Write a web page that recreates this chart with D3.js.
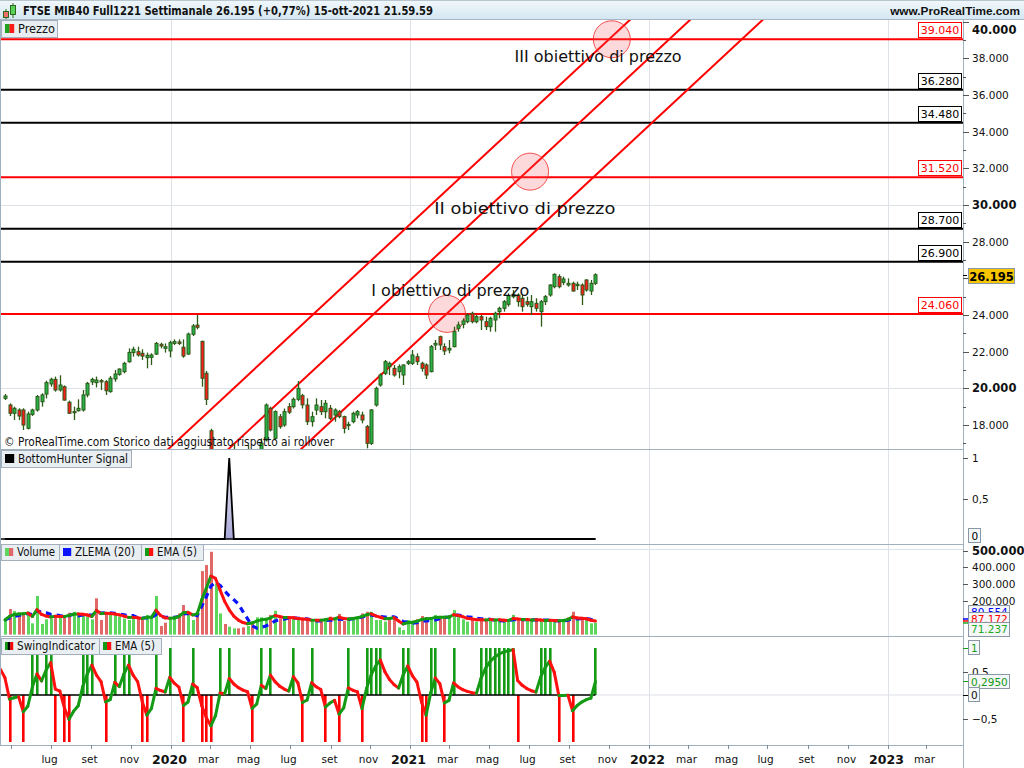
<!DOCTYPE html>
<html><head><meta charset="utf-8">
<script src="https://cdn.jsdelivr.net/npm/d3@7"></script>
<style>body{margin:0;background:#fff;overflow:hidden}svg{display:block;font-family:"DejaVu Sans",sans-serif}</style>
</head><body><svg id="c" width="1024" height="768"></svg>
<script>
// ---------------- DATA ----------------
const firstWeek = "2019-04-22";
const open = [19455,19090,18640,18820,18820,17820,18580,18820,19270,19690,20240,20490,19910,20090,19240,18730,18780,18820,19640,20350,20310,20420,20360,19820,20510,20760,20910,21450,21950,22000,21910,21670,21690,21870,22400,22180,22040,22450,22530,22240,21870,22950,23450,22560,20820,
17690,14800,14900,15400,15200,15600,16300,16100,15800,16500,16000,16500,17180,18910,17270,18450,18000,19000,19000,19400,19600,
19091,18182,18818,19000,18727,18909,18545,18727,18455,17964,18182,18545,18545,17909,17000,19091,20182,20818,21182,21091,20909,20727,21364,21364,21727,21364,21273,20909,22364,22818,22273,22091,22273,23273,23491,23636,24091,23636,23909,23636,23364,23727,24182,24364,24582,25000,25091,24909,24727,24455,24636,24182,24727,25091,25545,26091,25782,25636,25727,25600,25636,25909,25309,25727];
const high = [19690,19180,19000,18910,18910,18730,18890,19640,19730,20420,20580,20640,20710,20160,19330,19000,19400,19910,20350,20580,20640,20510,20450,20670,21000,21090,21450,22180,22270,22270,22130,21950,21910,22530,22490,22450,22600,22670,22670,22670,23040,23510,24020,22600,20950,
17800,15600,15600,16200,15900,17000,16600,16500,16900,16600,16700,17270,19180,19000,18800,18600,18900,19200,19500,20400,19700,
19455,18727,19455,19364,19364,19091,18909,18818,18509,18182,18727,18818,18727,18000,18873,20091,20818,21545,21455,21273,21309,21309,21545,22091,21909,21455,21364,22364,22636,22873,22455,22636,23364,23636,23818,24091,24182,24000,24000,23909,23909,24182,24455,24818,25182,25364,25182,25091,25000,25091,24909,24818,25091,25673,26272,26218,26091,26000,25818,25818,25727,25963,25909,26272];
const low = [19360,18490,18270,18270,17730,17760,18490,18730,19000,19450,20090,19820,19820,19330,18600,18270,18730,18730,19510,20180,20050,19910,19640,19760,20360,20690,20820,21400,21730,21730,21550,21090,21270,21820,22180,21950,21690,22360,22360,21670,21820,22850,23220,20090,19090,
14300,13700,14300,15000,14800,15400,15800,15600,15700,15800,15900,16400,17100,17650,17200,17800,17900,18600,18900,19300,18900,
18000,17909,18545,18545,18364,18273,18182,18364,17545,17727,18091,18364,18091,16727,16909,19000,20091,20727,20727,20636,20545,20182,21273,21273,21273,20909,20509,20873,22091,22091,21818,21909,22236,23091,23273,23545,23545,23545,23182,23182,23091,23091,23818,24182,24455,24909,24455,24182,24455,24000,24182,23364,24545,25000,25455,25455,25636,25545,25273,25364,24545,25273,25091,25636];
const close = [19580,18640,18910,18490,18000,18600,18820,19550,19640,20310,20490,19910,20180,19360,18640,18670,18910,19640,20270,20490,20450,20350,19870,20550,20780,21050,21360,21960,22130,21820,21760,21800,21820,22450,22310,22270,22490,22550,22450,21760,22960,23400,23330,20550,19400,
14800,14900,15400,15200,15600,16300,16100,15800,16500,16000,16500,17000,19090,17730,18730,17910,18730,18700,19400,20000,19100,
18182,18455,19091,18727,19182,18364,18818,18455,17818,18036,18636,18727,18273,17000,18818,20000,20727,21455,21364,20727,21182,21273,21455,21818,21455,21091,20727,22273,22455,22364,22036,22182,23091,23455,23673,24000,23636,23909,23727,23364,23818,24091,24364,24727,25054,25127,24727,24455,24582,24727,24364,24727,25000,25636,26218,25545,25963,25727,25309,25673,25091,25364,25727,26195];
const volume = [87,152,140,130,126,136,67,230,63,91,95,117,103,107,130,136,126,117,107,91,216,87,130,123,117,107,95,87,103,95,87,117,103,230,51,71,91,103,126,176,136,87,136,378,414,493,305,126,63,47,37,37,43,51,77,103,103,97,117,142,97,87,103,97,87,87,87,75,87,83,95,107,91,123,81,87,103,107,126,136,136,87,87,77,97,111,43,27,87,77,91,111,103,97,117,103,103,107,146,107,91,77,87,77,87,87,95,83,91,77,83,117,87,83,91,83,91,83,77,87,83,77,87,103,136,87,95,87,67,71.237].map(v => v * 1000);
const swing = [0,-1,0,0,-1,0,1,1,0,1, 1,-1,0,-1,-1,0,0,1,1,1, 0,0,-1,0,1,0,1,1,0,0, -1,-1,0,1,0,0,1,0,0,-1, 0,1,0,-1,-1,-1,0,1,0,1, 0,0,0,0,-1,0,1,0,1,0, 0,0,0,1,0,-1,0,1,0,0, -1,0,0,-1,0,1,0,0,-1,1, 1,1,1,0,0,0,0,1,1,0, 0,-1,-1,1,1,0,-1,0,1,0, 0,0,0,0,1,1,1,1,1,1, 1,1,-1,0,0,0,0,1,1,1, 0,-1,0,0,-1,0,0,0,0,1];
const swingEmaStart = 0.55;
const bottomHunterSignals = ["2020-03-30"];
const levelValues = [39040, 36280, 34480, 31520, 28700, 26900, 24060];
const levelIsTarget = [true, false, false, true, false, false, true];
const trendLines = [
  [["2019-12-28", 16691], ["2021-11-16", 39545]],
  [["2020-03-29", 16691], ["2022-02-16", 39545]],
  [["2020-07-18", 16691], ["2022-06-07", 39545]]
];
const targetCircles = [["2021-02-26", 24060], ["2021-07-03", 31820], ["2021-11-05", 39040]];
const targetTexts = ["I obiettivo di prezzo", "II obiettivo di prezzo", "III obiettivo di prezzo"];
const targetTextAnchors = [["2021-03-03", 25036], ["2021-06-25", 29510], ["2021-10-15", 37800]];
const priceTicks = [18000, 20000, 22000, 24000, 28000, 30000, 32000, 34000, 36000, 38000];
const monthNames = ["gen","feb","mar","apr","mag","giu","lug","ago","set","ott","nov","dic"];
const lastPrice = 26195;
const volLastLabels = [["80.554", "#0000ff"], ["87.172", "#ff0000"], ["71.237", "#22aa22"]];

// ---------------- SETUP ----------------
const svg = d3.select("#c");
const defs = svg.append("defs");
const L = 1, R = 963;
const parse = d3.utcParse("%Y-%m-%d");
const weeks = close.map((_, i) => d3.utcMonday.offset(parse(firstWeek), i));
const x = d3.scaleUtc().domain([Date.UTC(2019,3,16), Date.UTC(2023,3,26)]).range([L, R]);
const yP = d3.scaleLinear().domain([24000, 36000]).range([315, 95]);
const yB = d3.scaleLinear().domain([0, 1]).range([539, 458]);
const yV = d3.scaleLinear().domain([0, 500000]).range([634.6, 550.6]);
const yS = d3.scaleLinear().domain([0, 1]).range([695, 648]);
const panels = {price:[20,449], bh:[450,544], vol:[544,637], sw:[637,745]};
Object.entries(panels).forEach(([k,[a,b]]) => {
  defs.append("clipPath").attr("id","cl-"+k).append("rect").attr("x",L).attr("y",a).attr("width",R-L).attr("height",b-a);
});
const tg = defs.append("linearGradient").attr("id","tgrad").attr("x1",0).attr("y1",0).attr("x2",0).attr("y2",1);
tg.append("stop").attr("offset","0%").attr("stop-color","#f1f8fc");
tg.append("stop").attr("offset","100%").attr("stop-color","#d3e6f1");
const bg = defs.append("linearGradient").attr("id","bhgrad").attr("x1",0).attr("y1",0).attr("x2",0).attr("y2",1);
bg.append("stop").attr("offset","0%").attr("stop-color","#f2f2f8");
bg.append("stop").attr("offset","100%").attr("stop-color","#a8a8d8");

svg.append("rect").attr("width",1024).attr("height",768).attr("fill","#fff");

// grid
const gridC = "#dde2e8";
const years = d3.utcYear.range(Date.UTC(2020,0,1), Date.UTC(2023,1,1));
svg.append("g").selectAll("line").data(years).join("line")
  .attr("x1", d => Math.round(x(d))+0.5).attr("x2", d => Math.round(x(d))+0.5)
  .attr("y1", 20).attr("y2", 745).attr("stroke", gridC);
[20000, 30000].forEach(v => svg.append("line").attr("x1",L).attr("x2",R).attr("y1",Math.round(yP(v))+0.5).attr("y2",Math.round(yP(v))+0.5).attr("stroke",gridC));
svg.append("line").attr("x1",L).attr("x2",R).attr("y1",Math.round(yV(500000))-1.5).attr("y2",Math.round(yV(500000))-1.5).attr("stroke",gridC);
svg.append("line").attr("x1",L).attr("x2",R).attr("y1",yS(0)).attr("y2",yS(0)).attr("stroke",gridC);

// ---------------- PRICE PANEL ----------------
const gp = svg.append("g").attr("clip-path","url(#cl-price)");
levelValues.forEach((v,i) => {
  gp.append("line").attr("x1",L).attr("x2",R).attr("y1",yP(v)).attr("y2",yP(v))
    .attr("stroke", levelIsTarget[i] ? "#ff0000" : "#000").attr("stroke-width",2);
});
trendLines.forEach(([a,b]) => {
  const ta = parse(a[0]), tb = parse(b[0]);
  const slope = (b[1]-a[1])/(tb-ta);
  const t0 = x.domain()[0], t1 = x.domain()[1];
  const p0 = a[1] + slope*(t0-ta), p1 = a[1] + slope*(t1-ta);
  gp.append("line").attr("x1",x(t0)).attr("y1",yP(p0)).attr("x2",x(t1)).attr("y2",yP(p1))
    .attr("stroke","#ff0000").attr("stroke-width",2);
});
gp.selectAll("circle.t").data(targetCircles).join("circle")
  .attr("cx", d => x(parse(d[0]))).attr("cy", d => yP(d[1])).attr("r", 18.5)
  .attr("fill","rgba(250,80,90,0.22)").attr("stroke","rgba(240,40,40,0.8)").attr("stroke-width",1);
const candleG = gp.append("g");
weeks.forEach((d,i) => {
  const cx = Math.round(x(d)) + 0.5;
  const up = close[i] >= open[i];
  candleG.append("line").attr("x1",cx).attr("x2",cx).attr("y1",yP(high[i])).attr("y2",yP(low[i]))
    .attr("stroke","#2c5a17").attr("stroke-width",1.3);
  const yt = yP(Math.max(open[i],close[i])), yb = yP(Math.min(open[i],close[i]));
  candleG.append("rect").attr("x",cx-1.5).attr("y",yt).attr("width",3).attr("height",Math.max(1,yb-yt))
    .attr("fill", up ? "#27b34a" : "#ff1c1c").attr("stroke","#2c5a17").attr("stroke-width",1);
});
targetTexts.forEach((t,i) => {
  gp.append("text").attr("x", x(parse(targetTextAnchors[i][0]))).attr("y", yP(targetTextAnchors[i][1]))
    .attr("text-anchor","middle").attr("font-size",16).attr("fill","#111")
    .attr("textLength", [158,181,167][i]).attr("lengthAdjust","spacingAndGlyphs").text(t);
});
levelValues.forEach((v,i) => {
  const c = levelIsTarget[i] ? "#ff0000" : "#000";
  const yy = Math.round(yP(v));
  svg.append("rect").attr("x",918.5).attr("y",yy-16.5).attr("width",43).attr("height",15).attr("fill","#fff").attr("stroke",c).attr("stroke-width",1);
  svg.append("text").attr("x",940).attr("y",yy-5).attr("text-anchor","middle").attr("font-size",11).attr("fill",c).text(d3.format(",")(v).replace(/,/g,"."));
});
svg.append("text").attr("x",4).attr("y",446).attr("font-size",12.5).attr("fill","#111")
  .attr("textLength",330).attr("lengthAdjust","spacingAndGlyphs")
  .text("\u00A9 ProRealTime.com  Storico dati aggiustato rispetto ai rollover");

// ---------------- BOTTOM HUNTER ----------------
const gb = svg.append("g").attr("clip-path","url(#cl-bh)");
const bhSet = new Set(bottomHunterSignals);
const bhVals = weeks.map(d => bhSet.has(d3.utcFormat("%Y-%m-%d")(d)) ? 1 : 0);
const bhLine = d3.line().x((d,i) => x(weeks[i])).y(d => yB(d));
const bhArea = d3.area().x((d,i) => x(weeks[i])).y0(yB(0)).y1(d => yB(d));
gb.append("path").datum(bhVals).attr("d", bhArea).attr("fill","url(#bhgrad)");
gb.append("path").datum(bhVals).attr("d", bhLine).attr("fill","none").attr("stroke","#000").attr("stroke-width",1.8);

// ---------------- VOLUME ----------------
const gv = svg.append("g").attr("clip-path","url(#cl-vol)");
weeks.forEach((d,i) => {
  const up = i === 0 ? true : close[i] >= close[i-1];
  const cx = Math.round(x(d));
  gv.append("rect").attr("x",cx-1).attr("y",yV(volume[i])).attr("width",3).attr("height",yV(0)-yV(volume[i]))
    .attr("fill", up ? "#5cd65c" : "#e26868");
});
const ema5 = []; volume.forEach((v,i) => ema5.push(i===0 ? v : ema5[i-1] + (v-ema5[i-1])*(2/6)));
const zl = []; const lag = 9;
volume.forEach((v,i) => { const src = 2*v - volume[Math.max(0,i-lag)]; zl.push(i===0 ? v : zl[i-1] + (src - zl[i-1])*(2/21)); });
gv.append("path").datum(zl).attr("d", d3.line().x((d,i)=>x(weeks[i])).y(d=>yV(d)))
  .attr("fill","none").attr("stroke","#0a14ff").attr("stroke-width",3.2).attr("stroke-dasharray","6,5");
for (let i=1;i<ema5.length;i++){
  gv.append("line").attr("x1",x(weeks[i-1])).attr("x2",x(weeks[i])).attr("y1",yV(ema5[i-1])).attr("y2",yV(ema5[i]))
    .attr("stroke", ema5[i] >= ema5[i-1] ? "#139a13" : "#ff1010").attr("stroke-width",3).attr("stroke-linecap","round");
}

// ---------------- SWING ----------------
const gs = svg.append("g").attr("clip-path","url(#cl-sw)");
weeks.forEach((d,i) => {
  if (!swing[i]) return;
  const cx = Math.round(x(d));
  gs.append("rect").attr("x",cx-1).attr("width",2.6)
    .attr("y", Math.min(yS(0), yS(swing[i]))).attr("height", Math.abs(yS(swing[i])-yS(0)))
    .attr("fill", swing[i] > 0 ? "#149a14" : "#ff0000");
});
gs.append("line").attr("x1",L).attr("x2",x(weeks[weeks.length-1])).attr("y1",yS(0)).attr("y2",yS(0)).attr("stroke","#000").attr("stroke-width",1.3);
const sEma = []; swing.forEach((v,i) => { const prev = i===0 ? swingEmaStart : sEma[i-1]; sEma.push(prev + (v - prev)/3); });
const sPts = [[d3.utcMonday.offset(weeks[0],-1), swingEmaStart]].concat(weeks.map((d,i)=>[d,sEma[i]]));
for (let i=1;i<sPts.length;i++){
  gs.append("line").attr("x1",x(sPts[i-1][0])).attr("x2",x(sPts[i][0])).attr("y1",yS(sPts[i-1][1])).attr("y2",yS(sPts[i][1]))
    .attr("stroke", sPts[i][1] >= sPts[i-1][1] ? "#149a14" : "#ff1010").attr("stroke-width",3).attr("stroke-linecap","round");
}
gb.append("line").attr("x1",L).attr("x2",x(weeks[weeks.length-1])).attr("y1",yB(0)).attr("y2",yB(0)).attr("stroke","#000").attr("stroke-width",1.5);

// ---------------- FRAMES ----------------
const frameC = "#9fb0be";
[449.5, 544.5, 636.5, 745.5].forEach(y => svg.append("line").attr("x1",0).attr("x2",R).attr("y1",y).attr("y2",y).attr("stroke",frameC));
svg.append("line").attr("x1",R+0.5).attr("x2",R+0.5).attr("y1",20).attr("y2",768).attr("stroke",frameC);
svg.append("line").attr("x1",0.5).attr("x2",0.5).attr("y1",20).attr("y2",745).attr("stroke",frameC);

// ---------------- TITLE ----------------
svg.append("rect").attr("x",0).attr("y",0).attr("width",1024).attr("height",20).attr("fill","url(#tgrad)");
svg.append("line").attr("x1",0).attr("x2",1024).attr("y1",19.5).attr("y2",19.5).attr("stroke","#a7b6c2");
svg.append("line").attr("x1",0).attr("x2",1024).attr("y1",0.5).attr("y2",0.5).attr("stroke","#b8c6d0");
svg.append("line").attr("x1",6).attr("x2",6).attr("y1",9).attr("y2",19).attr("stroke","#2c6a1a");
svg.append("rect").attr("x",3.5).attr("y",11.5).attr("width",5).attr("height",6).attr("fill","#f07070").attr("stroke","#2c6a1a");
svg.append("line").attr("x1",13).attr("x2",13).attr("y1",3).attr("y2",18).attr("stroke","#2c6a1a");
svg.append("rect").attr("x",10.5).attr("y",5.5).attr("width",5).attr("height",9).attr("fill","#5ad05a").attr("stroke","#2c6a1a");
svg.append("text").attr("x",23).attr("y",15).attr("font-size",12).attr("font-weight","bold").attr("fill","#111")
  .attr("textLength",410).attr("lengthAdjust","spacingAndGlyphs")
  .text("FTSE MIB40 Full1221 Settimanale 26.195 (+0,77%) 15-ott-2021 21.59.59");
svg.append("text").attr("x",1020).attr("y",15).attr("text-anchor","end").attr("font-family","'Liberation Sans',Arial,sans-serif")
  .attr("font-size",11.8).attr("font-weight","bold").attr("fill","#111").text("www.ProRealTime.com");

// ---------------- LEGENDS ----------------
function legendBox(x0, y0, w, h, label, icon, tl) {
  svg.append("rect").attr("x",x0+0.5).attr("y",y0+0.5).attr("width",w).attr("height",h).attr("fill","#e8eef2").attr("stroke","#a3b0bb");
  const ix = x0+4, iy = y0+4, is = h-8;
  icon.forEach((c,k) => svg.append("rect").attr("x",ix + k*is/icon.length).attr("y",iy).attr("width",is/icon.length+0.2).attr("height",is).attr("fill",c));
  svg.append("text").attr("x",ix+is+4).attr("y",y0+h-4).attr("font-size",11.5).attr("fill","#111")
    .attr("textLength",tl).attr("lengthAdjust","spacingAndGlyphs").text(label);
}
legendBox(1,20,56,17,"Prezzo",["#1fa01f","#ff1a1a"],37);
legendBox(1,450,130,17,"BottomHunter Signal",["#000"],110);
legendBox(1,544,58,16,"Volume",["#5cd65c","#e26868"],38);
legendBox(59,544,82,16,"ZLEMA (20)",["#0a14ff"],60);
legendBox(141,544,62,16,"EMA (5)",["#139a13","#ff1010"],40);
legendBox(1,638,98,16,"SwingIndicator",["#139a13","#000","#ff0000"],78);
legendBox(99,638,62,16,"EMA (5)",["#139a13","#ff1010"],40);

// ---------------- RIGHT AXES ----------------
const fmtK = v => d3.format(",")(v).replace(/,/g,".");
const ax = svg.append("g");
function tick(y, len, col){ ax.append("line").attr("x1",R).attr("x2",R+len).attr("y1",Math.round(y)+0.5).attr("y2",Math.round(y)+0.5).attr("stroke",col||"#555"); }
function lab(y, t, bold, col){ ax.append("text").attr("x",972).attr("y",y+4).attr("font-size",bold?11.5:10.5).attr("font-weight",bold?"bold":"normal").attr("fill",col||"#111").text(t); }
d3.range(17000, 40001, 1000).forEach(v => tick(yP(v), v%2000===0 ? 6 : 3));
priceTicks.forEach(v => lab(yP(v), fmtK(v), v%10000===0));
lab(30, "40.000", true);
ax.append("rect").attr("x",968.5).attr("y",268.5).attr("width",46).attr("height",15).attr("fill","#f7c600").attr("stroke","#8a98a6");
ax.append("text").attr("x",991.5).attr("y",280.5).attr("text-anchor","middle").attr("font-size",11.5).attr("font-weight","bold").text(fmtK(lastPrice));
tick(yP(lastPrice), 4, "#000");
tick(yB(1),5); lab(yB(1),"1"); tick(yB(0.5),5); lab(yB(0.5),"0,5");
ax.append("rect").attr("x",968.5).attr("y",528.5).attr("width",12).attr("height",14).attr("fill","#f4f6f8").attr("stroke","#8a98a6");
ax.append("text").attr("x",971.5).attr("y",539.5).attr("font-size",10.5).text("0");
[200000,300000,400000].forEach(v => { tick(yV(v),5); lab(yV(v), fmtK(v)); });
tick(yV(500000),5); lab(yV(500000),"500.000",true);
[[605,612],[612,619],[622,629]].forEach(([by,ty],k) => {
  ax.append("rect").attr("x",968.5).attr("y",by+0.5).attr("width",41).attr("height",14).attr("fill","#f4f6f8").attr("stroke","#8a98a6");
  ax.append("text").attr("x",971).attr("y",ty+4).attr("font-size",10.5).attr("fill",volLastLabels[k][1]).text(volLastLabels[k][0]);
});
[["#0000ff",619],["#ff0000",621],["#22aa22",623]].forEach(([c,y]) => ax.append("line").attr("x1",R).attr("x2",R+5).attr("y1",y).attr("y2",y).attr("stroke",c).attr("stroke-width",1.5));
tick(yS(0.5),5); lab(yS(0.5),"0,5"); tick(yS(-0.5),5); lab(yS(-0.5),"\u22120,5");
tick(yS(1),5,"#149a14"); tick(yS(0.295),5,"#149a14"); tick(yS(0),5,"#000");
ax.append("rect").attr("x",968.5).attr("y",640.5).attr("width",11).attr("height",14).attr("fill","#f4f6f8").attr("stroke","#8a98a6");
ax.append("text").attr("x",971).attr("y",652).attr("font-size",10.5).attr("fill","#149a14").text("1");
ax.append("rect").attr("x",968.5).attr("y",674.5).attr("width",41).attr("height",14).attr("fill","#f4f6f8").attr("stroke","#8a98a6");
ax.append("text").attr("x",971).attr("y",686).attr("font-size",10.5).attr("fill","#149a14").text("0,2950");
ax.append("rect").attr("x",968.5).attr("y",687.5).attr("width",11).attr("height",14).attr("fill","#f4f6f8").attr("stroke","#8a98a6");
ax.append("text").attr("x",971).attr("y",699).attr("font-size",10.5).attr("fill","#111").text("0");

// ---------------- X AXIS ----------------
const xt = d3.utcMonth.every(2).range(Date.UTC(2019,4,1), Date.UTC(2023,4,1));
const xa = svg.append("g");
xt.forEach((d,k) => {
  const px = Math.round(x(d))+0.5;
  xa.append("line").attr("x1",px).attr("x2",px).attr("y1",745).attr("y2",749).attr("stroke","#7d8c99");
  if (k === 0) return;
  const isYear = d.getUTCMonth() === 0;
  xa.append("text").attr("x",px-2).attr("y",isYear?764:763).attr("text-anchor","middle")
    .attr("font-size",isYear?12.5:10.5).attr("font-weight",isYear?"bold":"normal").attr("fill","#111")
    .text(isYear ? d.getUTCFullYear() : monthNames[d.getUTCMonth()]);
});
</script></body></html>
